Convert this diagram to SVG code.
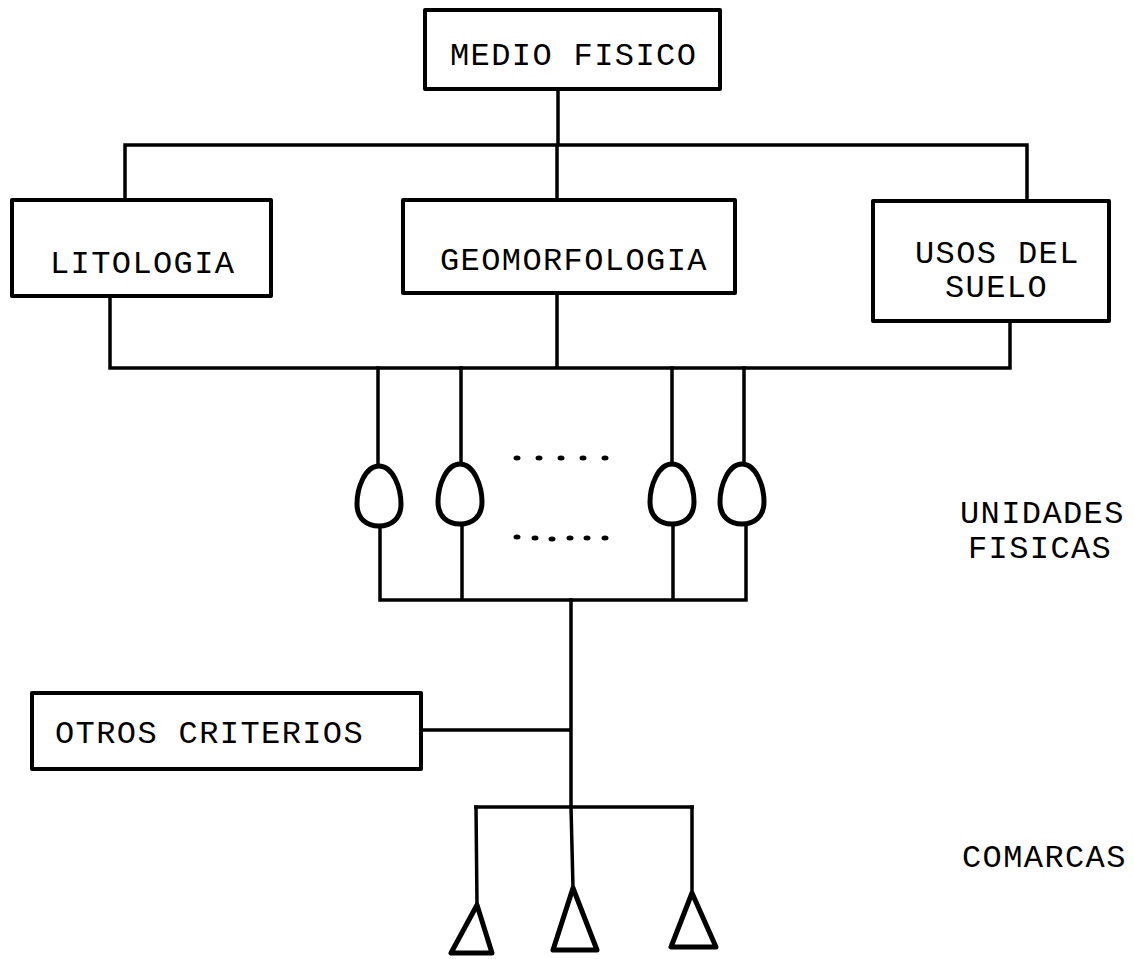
<svg xmlns="http://www.w3.org/2000/svg" xmlns:xlink="http://www.w3.org/1999/xlink" width="1134" height="959" viewBox="0 0 1134 959">
<style>
.box{fill:#fff;stroke:#000;stroke-width:4;stroke-linejoin:round}
.ln{fill:none;stroke:#000;stroke-width:3.5;stroke-linecap:square;stroke-linejoin:round}
.shape{fill:#fff;stroke:#000;stroke-width:5;stroke-linejoin:round}
.t{font-family:"Liberation Mono","Courier New",monospace;font-size:32px;letter-spacing:1.4px;fill:#000}
.dot{fill:#000}
</style>
<defs>
<path id="egg" d="M0,0 C14,0 22,22 22,38 C22,53 12,60 0,60 C-12,60 -22,53 -22,38 C-22,22 -14,0 0,0 Z"/>
</defs>
<rect width="1134" height="959" fill="#fff"/>
<g id="connectors">
<path class="ln" d="M558,89 V145 M125,145 H1027 M125,145 V200 M557,145 V200 M1027,145 V201"/>
<path class="ln" d="M110,296 V368 M557,293 V368 M1010,321 V368 M110,368 H1010"/>
<path class="ln" d="M378,368 V466 M461,368 V465 M672,368 V463 M744,368 V465"/>
<path class="ln" d="M380,527 V600 M462,525 V600 M673,527 V600 M746,525 V600 M380,600 H746"/>
<path class="ln" d="M571,600 V807 M421,730 H571 M476,807 H692"/>
<path class="ln" d="M476,807 L477,905 M571,807 L573,888 M692,807 V893"/>
</g>
<g id="medio-fisico">
<rect class="box" x="425" y="10" width="295" height="79"/>
<text class="t" x="450" y="65">MEDIO FISICO</text>
</g>
<g id="litologia">
<rect class="box" x="12" y="200" width="259" height="96"/>
<text class="t" x="50" y="273">LITOLOGIA</text>
</g>
<g id="geomorfologia">
<rect class="box" x="403" y="200" width="332" height="93"/>
<text class="t" x="440" y="270">GEOMORFOLOGIA</text>
</g>
<g id="usos-del-suelo">
<rect class="box" x="873" y="201" width="236" height="120"/>
<text class="t" x="915" y="263">USOS DEL</text>
<text class="t" x="945" y="297">SUELO</text>
</g>
<g id="unidad-1"><use href="#egg" xlink:href="#egg" class="shape" transform="translate(379,466)"/></g>
<g id="unidad-2"><use href="#egg" xlink:href="#egg" class="shape" transform="translate(460,464)"/></g>
<g id="unidad-3"><use href="#egg" xlink:href="#egg" class="shape" transform="translate(672,464)"/></g>
<g id="unidad-4"><use href="#egg" xlink:href="#egg" class="shape" transform="translate(742,464)"/></g>
<g id="dots">
<ellipse class="dot" cx="517" cy="458" rx="3.5" ry="2.5"/>
<ellipse class="dot" cx="539" cy="458" rx="3.5" ry="2.5"/>
<ellipse class="dot" cx="561" cy="458" rx="3.5" ry="2.5"/>
<ellipse class="dot" cx="583" cy="458" rx="3.5" ry="2.5"/>
<ellipse class="dot" cx="605" cy="458" rx="3.5" ry="2.5"/>
<ellipse class="dot" cx="517" cy="537" rx="3.5" ry="2.5"/>
<ellipse class="dot" cx="535" cy="538" rx="3.5" ry="2.5"/>
<ellipse class="dot" cx="552" cy="539" rx="3.5" ry="2.5"/>
<ellipse class="dot" cx="570" cy="538" rx="3.5" ry="2.5"/>
<ellipse class="dot" cx="587" cy="538" rx="3.5" ry="2.5"/>
<ellipse class="dot" cx="605" cy="538" rx="3.5" ry="2.5"/>
</g>
<g id="unidades-fisicas">
<text class="t" x="960" y="523">UNIDADES</text>
<text class="t" x="968" y="558">FISICAS</text>
</g>
<g id="otros-criterios">
<rect class="box" x="32" y="693" width="389" height="76"/>
<text class="t" x="55" y="743">OTROS CRITERIOS</text>
</g>
<g id="comarca-1"><polygon class="shape" points="477,905 451,953 492,953"/></g>
<g id="comarca-2"><polygon class="shape" points="573,888 553,950 597,950"/></g>
<g id="comarca-3"><polygon class="shape" points="692,893 671,947 716,947"/></g>
<g id="comarcas-label">
<text class="t" x="962" y="867">COMARCAS</text>
</g>
</svg>
